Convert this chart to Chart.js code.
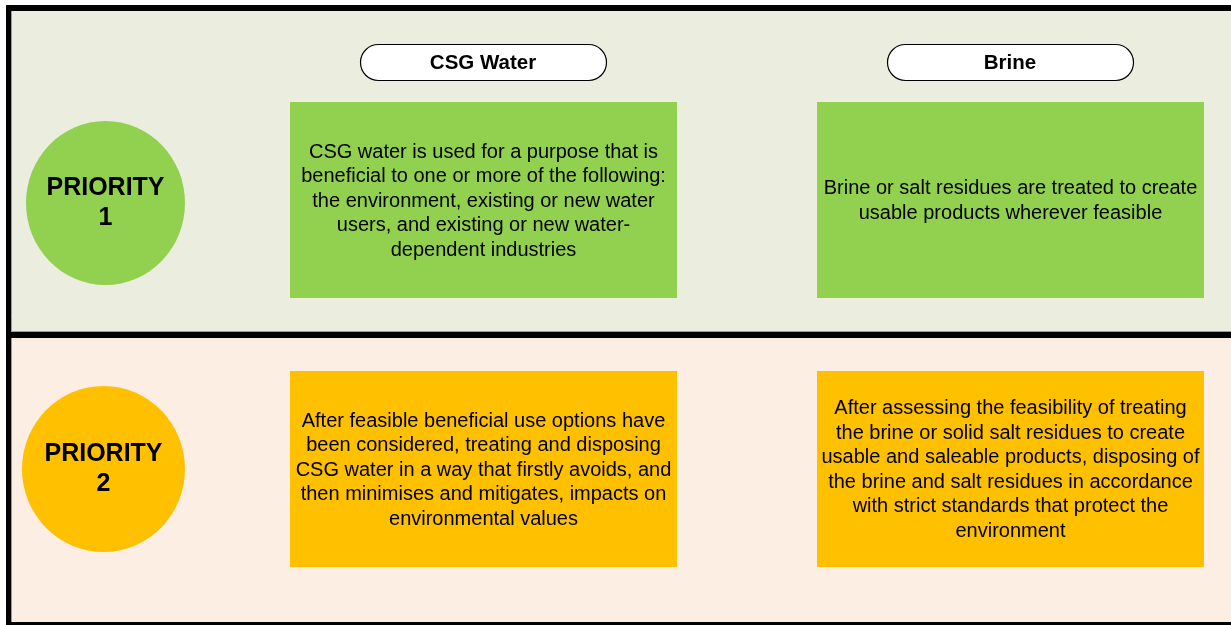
<!DOCTYPE html>
<html><head><meta charset="utf-8">
<script src="https://cdn.jsdelivr.net/npm/chart.js@4.4.1/dist/chart.umd.min.js"></script>
<style>html,body{margin:0;padding:0;background:#fff;}canvas{display:block;}</style>
</head><body>
<canvas id="c" width="1231" height="625"></canvas>
<script>
// ---- data ----
const columns = ["CSG Water", "Brine"];
const priorities = ["PRIORITY\n1", "PRIORITY\n2"];
const priorityColors = ["#92D050", "#FFC000"];
const panelColors = ["#EBEEDE", "#FDEEE4"];
const priority1Texts = [
  ["CSG water is used for a purpose that is", "beneficial to one or more of the following:", "the environment, existing or new water", "users, and existing or new water-", "dependent industries"],
  ["Brine or salt residues are treated to create", "usable products wherever feasible"]
];
const priority2Texts = [
  ["After feasible beneficial use options have", "been considered, treating and disposing", "CSG water in a way that firstly avoids, and", "then minimises and mitigates, impacts on", "environmental values"],
  ["After assessing the feasibility of treating", "the brine or solid salt residues to create", "usable and saleable products, disposing of", "the brine and salt residues in accordance", "with strict standards that protect the", "environment"]
];

// ---- layout ----
const L = {
  colBoxX: [290, 817], boxW: 387,
  rowBoxY: [102, 371], boxH: 196,
  pillX: [360, 887], pillW: 246, pillY: 44, pillH: 36,
  circ: [{cx:105.5, cy:203, rx:79.5, ry:82}, {cx:103.5, cy:469, rx:81.5, ry:83}],
  panelY: [[8, 335], [335, 625]]
};

const diagram = {
  id: 'diagram',
  beforeDraw(chart) {
    const ctx = chart.ctx, xs = chart.scales.x, ys = chart.scales.y;
    const X = v => xs.getPixelForValue(v), Y = v => ys.getPixelForValue(v);
    ctx.save();
    ctx.fillStyle = '#fff';
    ctx.fillRect(0, 0, chart.width, chart.height);
    // panels
    L.panelY.forEach((p, i) => {
      ctx.fillStyle = panelColors[i];
      ctx.fillRect(X(8), Y(p[0]), X(1231) - X(8), Y(p[1]) - Y(p[0]));
    });
    // thin grey inner edges
    ctx.strokeStyle = '#9a9a9a'; ctx.lineWidth = 1;
    ctx.beginPath();
    ctx.moveTo(X(11.5), Y(11)); ctx.lineTo(X(11.5), Y(622));
    ctx.moveTo(X(11), Y(331.5)); ctx.lineTo(X(1231), Y(331.5));
    ctx.stroke();
    // thick borders
    ctx.fillStyle = '#000';
    ctx.fillRect(X(6), Y(5), X(1231) - X(6), 6);
    ctx.fillRect(X(6), Y(5), 5, Y(625) - Y(5));
    ctx.fillRect(X(6), Y(332), X(1231) - X(6), 6);
    ctx.fillRect(X(6), Y(622), X(1231) - X(6), 3);

    // pills
    columns.forEach((c, i) => {
      const x = X(L.pillX[i]), y = Y(L.pillY), w = L.pillW, h = L.pillH, r = h / 2;
      ctx.beginPath();
      ctx.roundRect(x + 0.5, y + 0.5, w, h, r);
      ctx.fillStyle = '#fff'; ctx.fill();
      ctx.strokeStyle = '#000'; ctx.lineWidth = 1.2; ctx.stroke();
      ctx.fillStyle = '#000';
      ctx.font = 'bold 20.5px "Liberation Sans", Arial, sans-serif';
      ctx.textAlign = 'center'; ctx.textBaseline = 'middle';
      ctx.fillText(c, x + w / 2, y + h / 2 + 1);
    });

    // boxes
    const rows = [priority1Texts, priority2Texts];
    rows.forEach((texts, r) => {
      texts.forEach((lines, ci) => {
        const x = X(L.colBoxX[ci]), y = Y(L.rowBoxY[r]);
        ctx.fillStyle = priorityColors[r];
        ctx.fillRect(x, y, L.boxW, L.boxH);
        ctx.fillStyle = '#000';
        ctx.font = '20px "Liberation Sans", Arial, sans-serif';
        ctx.textAlign = 'center'; ctx.textBaseline = 'middle';
        const lh = 24.5;
        const cy = y + L.boxH / 2 + 1;
        const start = cy - (lines.length - 1) * lh / 2;
        lines.forEach((t, k) => ctx.fillText(t, x + L.boxW / 2, start + k * lh));
      });
    });

    // circles
    priorities.forEach((p, i) => {
      const c = L.circ[i];
      ctx.beginPath();
      ctx.ellipse(X(c.cx), Y(c.cy), c.rx, c.ry, 0, 0, Math.PI * 2);
      ctx.fillStyle = priorityColors[i]; ctx.fill();
      ctx.fillStyle = '#000';
      ctx.font = 'bold 25px "Liberation Sans", Arial, sans-serif';
      ctx.textAlign = 'center'; ctx.textBaseline = 'middle';
      const lines = p.split('\n');
      lines.forEach((t, k) => ctx.fillText(t, X(c.cx), Y(c.cy) + (k - 0.5) * 30));
    });
    ctx.restore();
  }
};

new Chart(document.getElementById('c'), {
  type: 'scatter',
  data: { datasets: [{ data: [], showLine: false }] },
  options: {
    responsive: false, devicePixelRatio: 1, animation: false,
    layout: { padding: 0 },
    plugins: { legend: { display: false }, tooltip: { enabled: false } },
    scales: {
      x: { type: 'linear', min: 0, max: 1231, display: false },
      y: { type: 'linear', min: 0, max: 625, reverse: true, display: false }
    }
  },
  plugins: [diagram]
});
</script>
</body></html>
